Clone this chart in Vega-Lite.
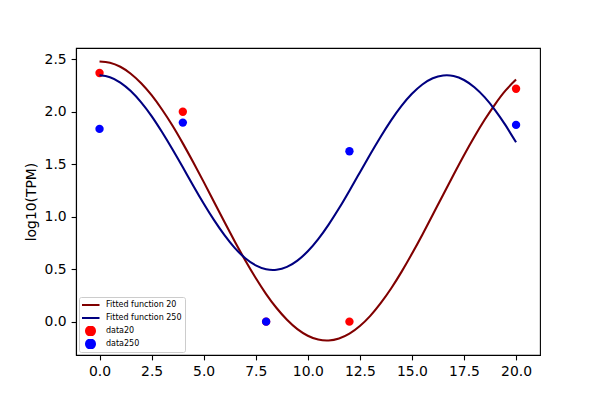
{
  "$schema": "https://vega.github.io/schema/vega-lite/v6.json",
  "width": 464,
  "height": 307,
  "autosize": "none",
  "padding": {"left": 76, "top": 48, "right": 60, "bottom": 45},
  "background": "white",
  "datasets": {
    "curves": [
      {"x": 0, "y": 2.480, "series": "Fitted function 20"},
      {"x": 0.5, "y": 2.468, "series": "Fitted function 20"},
      {"x": 1, "y": 2.429, "series": "Fitted function 20"},
      {"x": 1.5, "y": 2.363, "series": "Fitted function 20"},
      {"x": 2, "y": 2.272, "series": "Fitted function 20"},
      {"x": 2.5, "y": 2.158, "series": "Fitted function 20"},
      {"x": 3, "y": 2.022, "series": "Fitted function 20"},
      {"x": 3.5, "y": 1.869, "series": "Fitted function 20"},
      {"x": 4, "y": 1.699, "series": "Fitted function 20"},
      {"x": 4.5, "y": 1.519, "series": "Fitted function 20"},
      {"x": 5, "y": 1.332, "series": "Fitted function 20"},
      {"x": 5.5, "y": 1.140, "series": "Fitted function 20"},
      {"x": 6, "y": 0.949, "series": "Fitted function 20"},
      {"x": 6.5, "y": 0.762, "series": "Fitted function 20"},
      {"x": 7, "y": 0.583, "series": "Fitted function 20"},
      {"x": 7.5, "y": 0.416, "series": "Fitted function 20"},
      {"x": 8, "y": 0.263, "series": "Fitted function 20"},
      {"x": 8.5, "y": 0.130, "series": "Fitted function 20"},
      {"x": 9, "y": 0.018, "series": "Fitted function 20"},
      {"x": 9.5, "y": -0.071, "series": "Fitted function 20"},
      {"x": 10, "y": -0.134, "series": "Fitted function 20"},
      {"x": 10.5, "y": -0.171, "series": "Fitted function 20"},
      {"x": 11, "y": -0.180, "series": "Fitted function 20"},
      {"x": 11.5, "y": -0.161, "series": "Fitted function 20"},
      {"x": 12, "y": -0.115, "series": "Fitted function 20"},
      {"x": 12.5, "y": -0.042, "series": "Fitted function 20"},
      {"x": 13, "y": 0.055, "series": "Fitted function 20"},
      {"x": 13.5, "y": 0.176, "series": "Fitted function 20"},
      {"x": 14, "y": 0.316, "series": "Fitted function 20"},
      {"x": 14.5, "y": 0.474, "series": "Fitted function 20"},
      {"x": 15, "y": 0.646, "series": "Fitted function 20"},
      {"x": 15.5, "y": 0.828, "series": "Fitted function 20"},
      {"x": 16, "y": 1.018, "series": "Fitted function 20"},
      {"x": 16.5, "y": 1.210, "series": "Fitted function 20"},
      {"x": 17, "y": 1.400, "series": "Fitted function 20"},
      {"x": 17.5, "y": 1.586, "series": "Fitted function 20"},
      {"x": 18, "y": 1.762, "series": "Fitted function 20"},
      {"x": 18.5, "y": 1.926, "series": "Fitted function 20"},
      {"x": 19, "y": 2.074, "series": "Fitted function 20"},
      {"x": 19.5, "y": 2.204, "series": "Fitted function 20"},
      {"x": 20, "y": 2.307, "series": "Fitted function 20"},
      {"x": 0, "y": 2.348, "series": "Fitted function 250"},
      {"x": 0.5, "y": 2.330, "series": "Fitted function 250"},
      {"x": 1, "y": 2.279, "series": "Fitted function 250"},
      {"x": 1.5, "y": 2.198, "series": "Fitted function 250"},
      {"x": 2, "y": 2.090, "series": "Fitted function 250"},
      {"x": 2.5, "y": 1.959, "series": "Fitted function 250"},
      {"x": 3, "y": 1.807, "series": "Fitted function 250"},
      {"x": 3.5, "y": 1.643, "series": "Fitted function 250"},
      {"x": 4, "y": 1.471, "series": "Fitted function 250"},
      {"x": 4.5, "y": 1.296, "series": "Fitted function 250"},
      {"x": 5, "y": 1.126, "series": "Fitted function 250"},
      {"x": 5.5, "y": 0.967, "series": "Fitted function 250"},
      {"x": 6, "y": 0.824, "series": "Fitted function 250"},
      {"x": 6.5, "y": 0.701, "series": "Fitted function 250"},
      {"x": 7, "y": 0.604, "series": "Fitted function 250"},
      {"x": 7.5, "y": 0.536, "series": "Fitted function 250"},
      {"x": 8, "y": 0.499, "series": "Fitted function 250"},
      {"x": 8.5, "y": 0.494, "series": "Fitted function 250"},
      {"x": 9, "y": 0.522, "series": "Fitted function 250"},
      {"x": 9.5, "y": 0.582, "series": "Fitted function 250"},
      {"x": 10, "y": 0.670, "series": "Fitted function 250"},
      {"x": 10.5, "y": 0.786, "series": "Fitted function 250"},
      {"x": 11, "y": 0.925, "series": "Fitted function 250"},
      {"x": 11.5, "y": 1.080, "series": "Fitted function 250"},
      {"x": 12, "y": 1.248, "series": "Fitted function 250"},
      {"x": 12.5, "y": 1.422, "series": "Fitted function 250"},
      {"x": 13, "y": 1.595, "series": "Fitted function 250"},
      {"x": 13.5, "y": 1.762, "series": "Fitted function 250"},
      {"x": 14, "y": 1.918, "series": "Fitted function 250"},
      {"x": 14.5, "y": 2.056, "series": "Fitted function 250"},
      {"x": 15, "y": 2.171, "series": "Fitted function 250"},
      {"x": 15.5, "y": 2.260, "series": "Fitted function 250"},
      {"x": 16, "y": 2.319, "series": "Fitted function 250"},
      {"x": 16.5, "y": 2.346, "series": "Fitted function 250"},
      {"x": 17, "y": 2.341, "series": "Fitted function 250"},
      {"x": 17.5, "y": 2.303, "series": "Fitted function 250"},
      {"x": 18, "y": 2.234, "series": "Fitted function 250"},
      {"x": 18.5, "y": 2.137, "series": "Fitted function 250"},
      {"x": 19, "y": 2.014, "series": "Fitted function 250"},
      {"x": 19.5, "y": 1.870, "series": "Fitted function 250"},
      {"x": 20, "y": 1.709, "series": "Fitted function 250"}
    ],
    "points": [
      {"x": 0, "y": 2.37, "series": "data20"},
      {"x": 4, "y": 2.0, "series": "data20"},
      {"x": 8, "y": 0.0, "series": "data20"},
      {"x": 12, "y": 0.0, "series": "data20"},
      {"x": 20, "y": 2.22, "series": "data20"},
      {"x": 0, "y": 1.837, "series": "data250"},
      {"x": 4, "y": 1.897, "series": "data250"},
      {"x": 8, "y": 0.0, "series": "data250"},
      {"x": 12, "y": 1.624, "series": "data250"},
      {"x": 20, "y": 1.875, "series": "data250"}
    ]
  },
  "config": {
    "font": "DejaVu Sans",
    "view": {"stroke": "black", "strokeWidth": 1.1},
    "axis": {
      "grid": false,
      "domainColor": "black",
      "domainWidth": 1.1,
      "tickColor": "black",
      "tickSize": 4.9,
      "tickWidth": 1.1,
      "labelFont": "DejaVu Sans",
      "labelFontSize": 13.9,
      "labelColor": "black",
      "labelPadding": 4.9,
      "labelFlush": false,
      "labelOverlap": false,
      "labelBound": false,
      "titleFont": "DejaVu Sans",
      "titleFontSize": 13.9,
      "titleFontWeight": "normal",
      "titleColor": "black"
    },
    "legend": {
      "labelFont": "DejaVu Sans",
      "labelFontSize": 8,
      "labelColor": "black"
    }
  },
  "encoding": {
    "x": {
      "field": "x",
      "type": "quantitative",
      "scale": {"domain": [-1.13, 21.15], "nice": false, "zero": false},
      "axis": {"title": null, "values": [0, 2.5, 5, 7.5, 10, 12.5, 15, 17.5, 20], "format": ".1f"}
    },
    "y": {
      "field": "y",
      "type": "quantitative",
      "scale": {"domain": [-0.318, 2.608], "nice": false, "zero": false},
      "axis": {"title": "log10(TPM)", "titlePadding": 6, "values": [0, 0.5, 1, 1.5, 2, 2.5], "format": ".1f"}
    },
    "color": {
      "field": "series",
      "type": "nominal",
      "scale": {
        "domain": ["Fitted function 20", "Fitted function 250", "data20", "data250"],
        "range": ["#800000", "#000080", "#ff0000", "#0000ff"]
      },
      "legend": {
        "title": null,
        "orient": "none",
        "legendX": 3,
        "legendY": 249,
        "fillColor": "white",
        "strokeColor": "#cccccc",
        "cornerRadius": 2,
        "padding": 3,
        "symbolSize": 100,
        "symbolOffset": 2,
        "labelOffset": 9,
        "rowPadding": 3,
        "clipHeight": 10,
        "encode": {
          "symbols": {
            "update": {
              "shape": {"signal": "indexof(['data20', 'data250'], datum.value) >= 0 ? 'circle' : 'M-1.8,0H1.8'"},
              "size": {"signal": "indexof(['data20', 'data250'], datum.value) >= 0 ? 80 : 100"},
              "strokeWidth": {"value": 2.1},
              "fill": {"signal": "indexof(['data20', 'data250'], datum.value) >= 0 ? scale('color', datum.value) : 'transparent'"},
              "stroke": {"signal": "indexof(['data20', 'data250'], datum.value) >= 0 ? 'transparent' : scale('color', datum.value)"},
              "opacity": {"value": 1},
              "fillOpacity": {"value": 1},
              "strokeOpacity": {"value": 1}
            }
          }
        }
      }
    }
  },
  "layer": [
    {
      "data": {"name": "points"},
      "mark": {"type": "point", "shape": "circle", "filled": true, "size": 70, "opacity": 1}
    },
    {
      "data": {"name": "curves"},
      "mark": {"type": "line", "strokeWidth": 2.1, "interpolate": "natural"}
    }
  ]
}
